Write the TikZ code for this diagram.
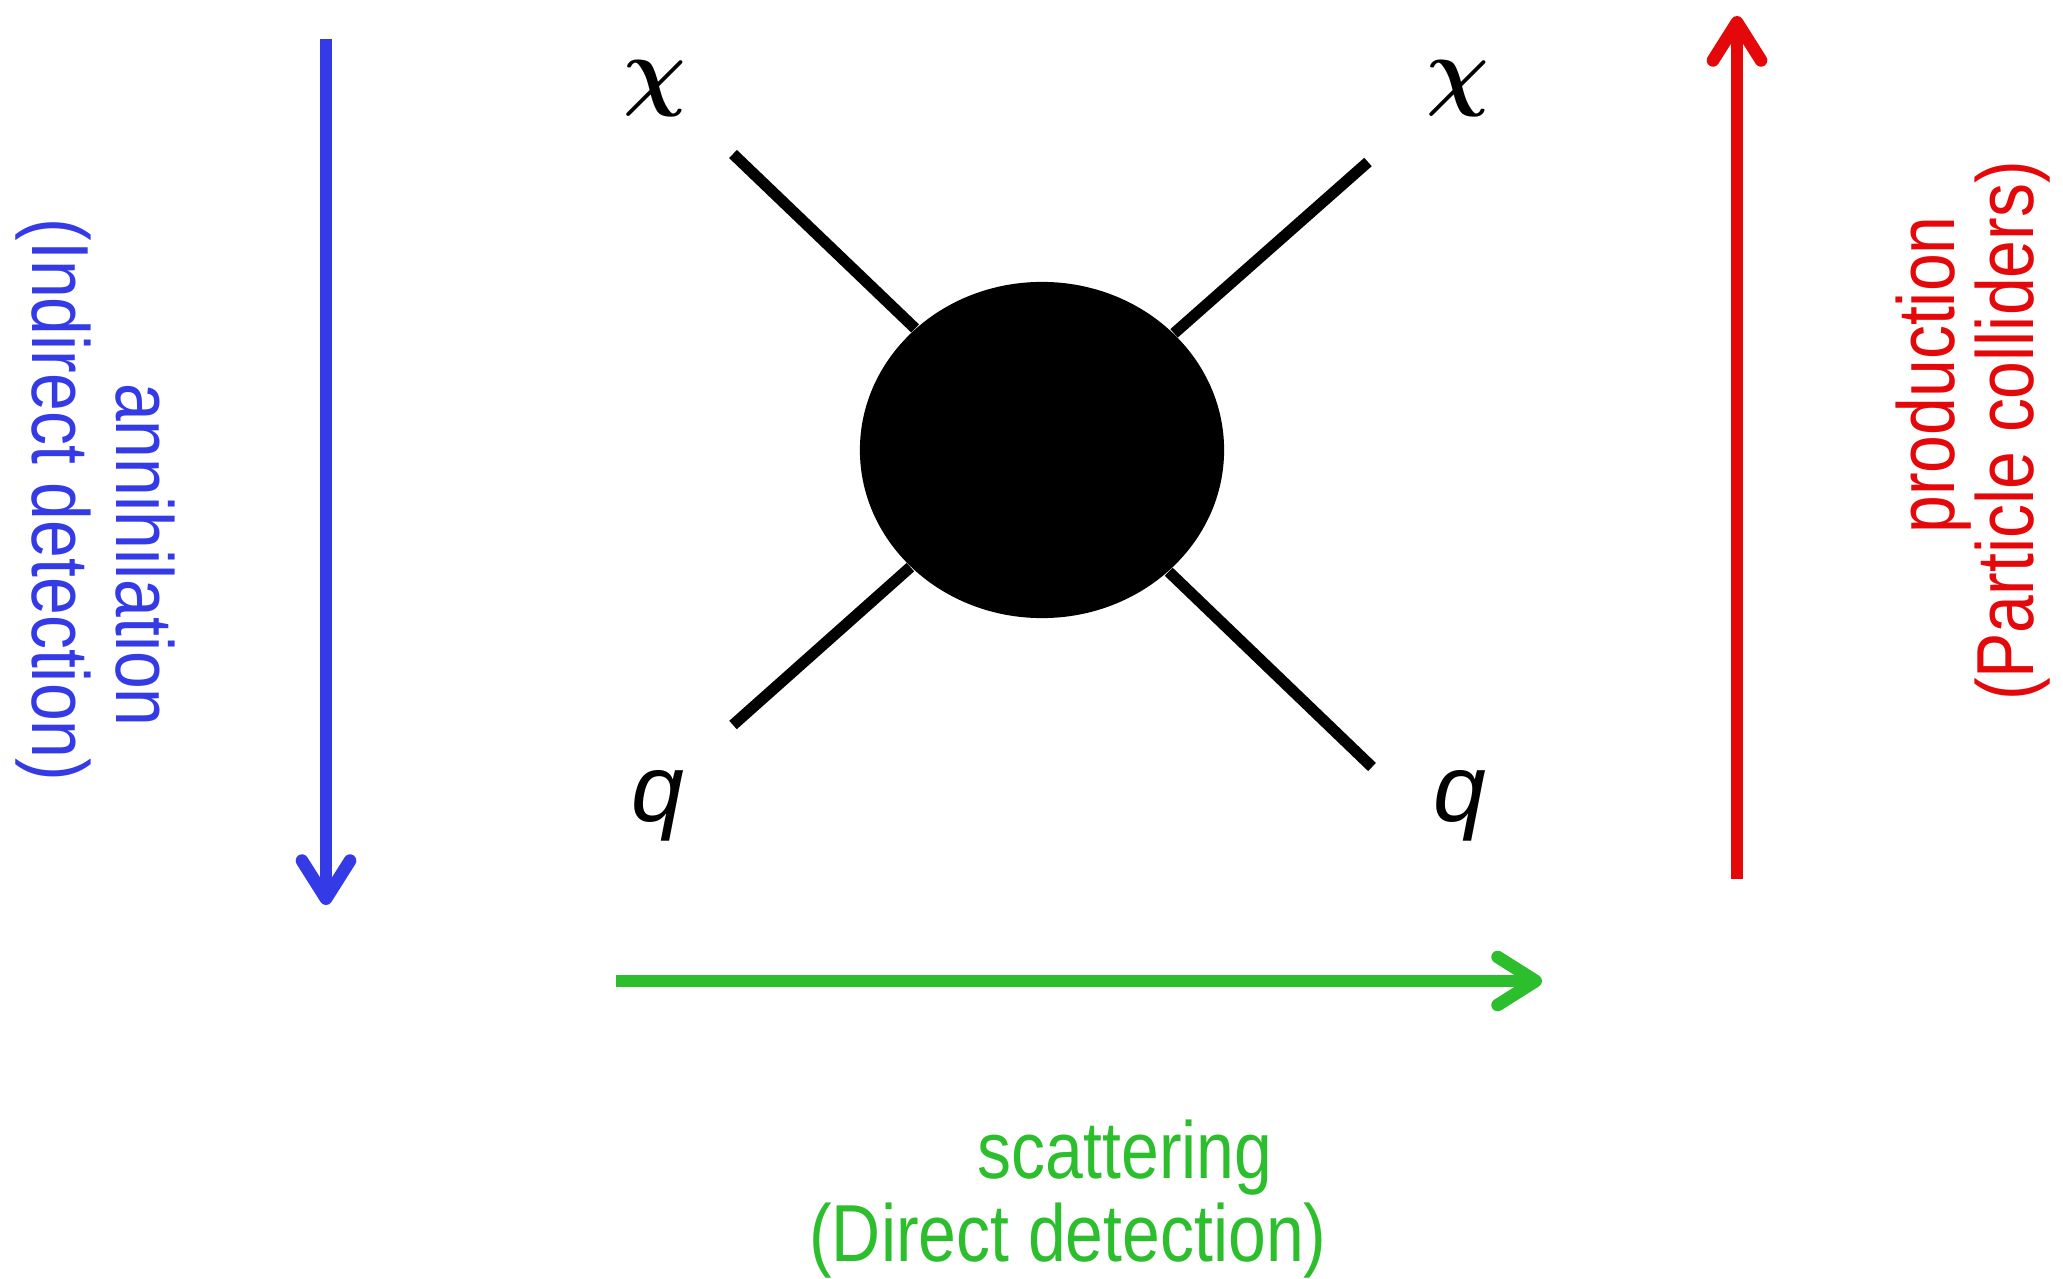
\documentclass[tikz,border=0pt]{standalone}
\usepackage{amsmath,amssymb}
\usepackage{fontspec}
\newfontfamily\labelfont{Liberation Sans}[FakeStretch=0.84]
\newfontfamily\partfont{Liberation Sans}
\usetikzlibrary{arrows.meta,shapes.geometric}
\definecolor{annblue}{RGB}{52,58,230}
\definecolor{prodred}{RGB}{228,8,10}
\definecolor{scatgreen}{RGB}{45,190,45}

\begin{document}
\begin{tikzpicture}[x=0.01cm,y=-0.01cm,
    leg/.style={line width=3.2pt},
    flow/.style={line width=3.6pt,-{Straight Barb[length=3.8mm,width=4.8mm,round]}},
    lbl/.style={font=\labelfont\fontsize{23}{27}\selectfont,inner sep=0pt},
    part/.style={font=\fontsize{27}{31}\selectfont,inner sep=0pt}]
    \useasboundingbox (0,0) rectangle (2063,1279);

    % Vertex blob
    \node[ellipse,fill=black,inner sep=0pt,minimum width=3.64cm,minimum height=3.36cm] (blob) at (1042,450) {};

    % Outer ends of the four legs
    \coordinate (chiL) at (733,154);
    \coordinate (chiR) at (1368,162);
    \coordinate (qL) at (733,725);
    \coordinate (qR) at (1372,767);

    \draw[leg] (chiL) -- (blob);
    \draw[leg] (chiR) -- (blob);
    \draw[leg] (qL) -- (blob);
    \draw[leg] (qR) -- (blob);

    \node[part] (chiLlbl) at (655,89) {$\boldsymbol{\chi}$};
    \node[part] (chiRlbl) at (1458,89) {$\boldsymbol{\chi}$};
    \node[part] (qLlbl) at (658,806) {\partfont\itshape q};
    \node[part] (qRlbl) at (1460,806) {\partfont\itshape q};

    % Annihilation (down)
    \coordinate (annTop) at (326,39);
    \coordinate (annBot) at (326,905);
    \draw[flow,annblue] (annTop) -- (annBot);
    \node[lbl,annblue,rotate=-90] (ann) at (145,555) {annihilation};
    \node[lbl,annblue,rotate=-90] (indir) at (53,500) {(Indirect detection)};

    % Production (up)
    \coordinate (prodBot) at (1737,879);
    \coordinate (prodTop) at (1737,16);
    \draw[flow,prodred] (prodBot) -- (prodTop);
    \node[lbl,prodred,rotate=90] (prod) at (1934,375) {production};
    \node[lbl,prodred,rotate=90] (coll) at (2013,431) {(Particle colliders)};

    % Scattering (right)
    \coordinate (scatL) at (616,981);
    \coordinate (scatR) at (1542,981);
    \draw[flow,scatgreen] (scatL) -- (scatR);
    \node[lbl,scatgreen] (scat) at (1125,1158) {scattering};
    \node[lbl,scatgreen] (dir) at (1068,1241) {(Direct detection)};
\end{tikzpicture}
\end{document}
